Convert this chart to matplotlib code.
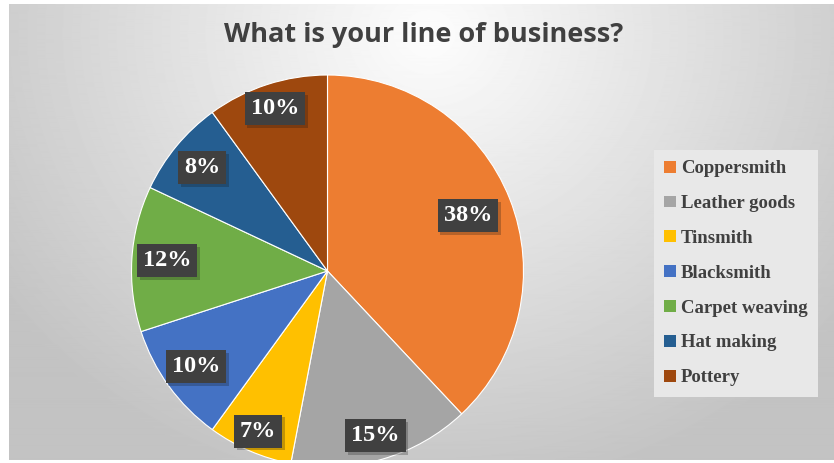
import numpy as np
import matplotlib.pyplot as plt
import matplotlib.patheffects as pe
from matplotlib.patches import Rectangle

businesses = ['Coppersmith', 'Leather goods', 'Tinsmith', 'Blacksmith',
              'Carpet weaving', 'Hat making', 'Pottery']
shares = [38, 15, 7, 10, 12, 8, 10]
colors = ['#ED7D31', '#A5A5A5', '#FFC000', '#4472C4',
          '#70AD47', '#255E91', '#9E480E']
# how far out each percentage label sits (fraction of the radius)
label_r = [0.77, 0.875, 0.89, 0.83, 0.82, 0.83, 0.87]

W, H = 834, 463
fig = plt.figure(figsize=(W / 100, H / 100), dpi=100)
fig.patch.set_facecolor('white')

# radial grey background behind the whole chart area
bg = fig.add_axes([9 / W, 3 / H, 1 - 9 / W, 1 - 7 / H], zorder=-1)
yy, xx = np.mgrid[0:460, 0:825]
d = np.sqrt(((xx - 420) / 520.0) ** 2 + ((yy - 30) / 470.0) ** 2)
shade = np.clip(253 - 58 * d, 195, 253) / 255.0
bg.imshow(shade, cmap='gray', vmin=0, vmax=1, aspect='auto', interpolation='bilinear')
bg.axis('off')

# pie axes: centre (327.5, 271) px from top-left, radius 196 px
R = 196
cx, cy = 327.5, 271
ax = fig.add_axes([(cx - R) / W, (H - cy - R) / H, 2 * R / W, 2 * R / H])

wedges, _ = ax.pie(shares, colors=colors, startangle=90, counterclock=False,
                   radius=1, wedgeprops=dict(edgecolor='white', linewidth=0.8))
ax.set_xlim(-1, 1)
ax.set_ylim(-1, 1)
ax.set_aspect('equal')
ax.axis('off')

total = sum(shares)
cum = 0
for val, r in zip(shares, label_r):
    mid = 90 - 360 * (cum + val / 2) / total
    cum += val
    x = r * np.cos(np.radians(mid))
    y = r * np.sin(np.radians(mid))
    t = ax.text(x, y, f'{val}%', ha='center', va='center', color='white',
                fontsize=17.5, fontweight='bold', family='Liberation Serif',
                bbox=dict(boxstyle='square,pad=0.25', facecolor='#404040',
                          edgecolor='none'))
    # soft drop shadow under the label box
    t.get_bbox_patch().set_path_effects(
        [pe.withSimplePatchShadow(offset=(2, -2), alpha=0.25)])

fig.text(424 / W, 1 - 35 / H, 'What is your line of business?',
         ha='center', va='center', fontsize=19.5, fontweight='bold',
         color='#404040', family='Open Sans')

leg = fig.legend(wedges, businesses, loc='upper left',
                 bbox_to_anchor=(654 / W, 1 - 150 / H),
                 prop=dict(family='Liberation Serif', weight='bold', size=13.5),
                 labelcolor='#404040', frameon=True, fancybox=False,
                 facecolor='#e8e8e8', edgecolor='none', framealpha=1,
                 handlelength=0.6, handleheight=0.6, handletextpad=0.3,
                 labelspacing=0.95, borderaxespad=0, borderpad=0.55)
for h in leg.legend_handles:
    h.set_edgecolor('none')

# white strip along the bottom edge
fig.add_artist(Rectangle((0, 0), 1, 3 / H, transform=fig.transFigure,
                         facecolor='white', edgecolor='none', zorder=5))

fig.savefig('out.png', dpi=100)
